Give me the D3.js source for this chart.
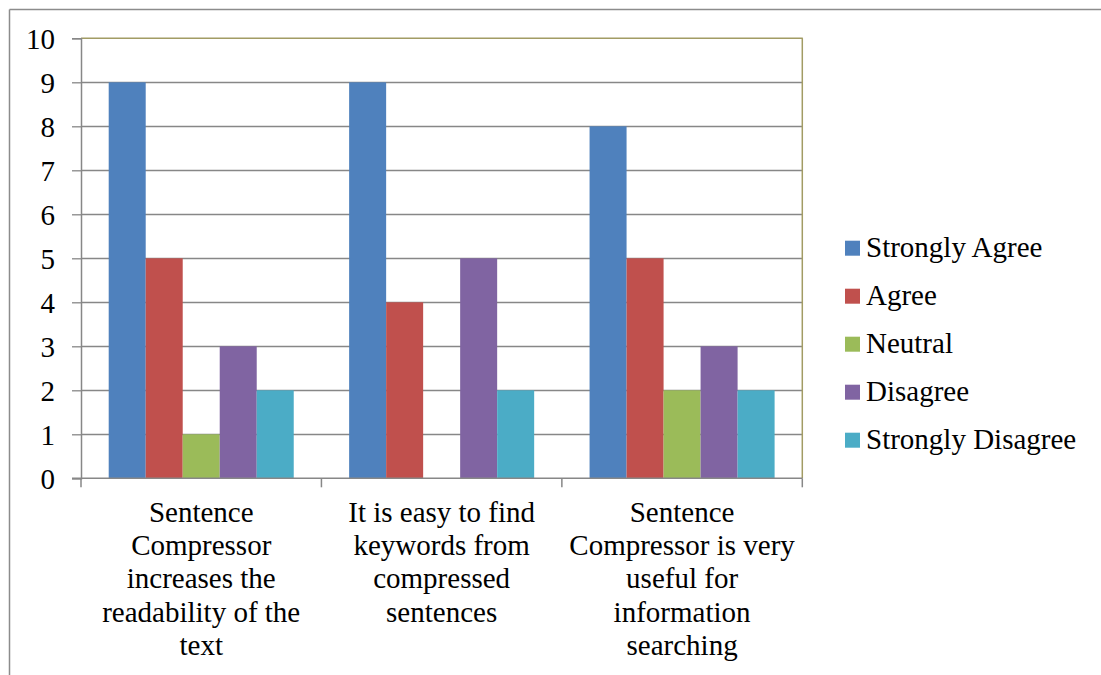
<!DOCTYPE html>
<html>
<head>
<meta charset="utf-8">
<script src="https://cdn.jsdelivr.net/npm/d3@7"></script>
<style>
  html, body { margin: 0; padding: 0; background: #fff; }
  svg { display: block; }
</style>
</head>
<body>
<script>
// ---- data ----
const categories = [
  ["Sentence", "Compressor", "increases the", "readability of the", "text"],
  ["It is easy to find", "keywords from", "compressed", "sentences"],
  ["Sentence", "Compressor is very", "useful for", "information", "searching"]
];
const seriesNames = ["Strongly Agree", "Agree", "Neutral", "Disagree", "Strongly Disagree"];
const seriesColors = ["#4F81BD", "#C0504D", "#9BBB59", "#8064A2", "#4BACC6"];
const stronglyAgree = [9, 9, 8];
const agree = [5, 4, 5];
const neutral = [1, 0, 2];
const disagree = [3, 5, 3];
const stronglyDisagree = [2, 2, 2];
const yTicks = [0, 1, 2, 3, 4, 5, 6, 7, 8, 9, 10];

const seriesValues = [stronglyAgree, agree, neutral, disagree, stronglyDisagree];
const FONT = "'Liberation Serif', 'Times New Roman', Times, Tinos, 'Nimbus Roman', 'Noto Serif', 'DejaVu Serif', FreeSerif, Georgia, serif";

const W = 1101, H = 675;
const svg = d3.select("body").append("svg").attr("width", W).attr("height", H);

// outer frame (top & left visible)
svg.append("line").attr("x1", 9.5).attr("x2", W).attr("y1", 9.5).attr("y2", 9.5)
  .attr("stroke", "#8c8c8c").attr("stroke-width", 1.5);
svg.append("line").attr("x1", 9.5).attr("x2", 9.5).attr("y1", 9.5).attr("y2", H)
  .attr("stroke", "#8c8c8c").attr("stroke-width", 1.5);

const plot = { left: 81, right: 802.3, top: 38.3, bottom: 478.3 };

const y = d3.scaleLinear().domain([0, 10]).range([plot.bottom, plot.top]);
const catIdx = categories.map((d, i) => i);
const x0 = d3.scaleBand().domain(catIdx).range([plot.left, plot.right]).padding(0);
const bw = x0.bandwidth();
const pad = bw * 0.1152;
const x1 = d3.scaleBand().domain(seriesNames).range([pad, bw - pad]).padding(0);

// gridlines
svg.append("g").selectAll("line").data(yTicks.filter(t => t > 0 && t < 10)).join("line")
  .attr("x1", plot.left).attr("x2", plot.right)
  .attr("y1", d => Math.round(y(d)) + 0.5).attr("y2", d => Math.round(y(d)) + 0.5)
  .attr("stroke", "#878787").attr("stroke-width", 1.3);

// bars
const groups = svg.append("g").selectAll("g").data(catIdx).join("g")
  .attr("transform", d => `translate(${x0(d)},0)`);
groups.selectAll("rect")
  .data(ci => seriesNames.map((s, si) => ({ s, si, v: seriesValues[si][ci] })))
  .join("rect")
  .attr("x", d => x1(d.s))
  .attr("width", x1.bandwidth())
  .attr("y", d => y(d.v))
  .attr("height", d => y(0) - y(d.v))
  .attr("fill", d => seriesColors[d.si]);

// plot border top & right (olive)
svg.append("line").attr("x1", plot.left).attr("x2", plot.right + 0.5)
  .attr("y1", plot.top).attr("y2", plot.top).attr("stroke", "#a29c64").attr("stroke-width", 1.5);
svg.append("line").attr("x1", plot.right).attr("x2", plot.right)
  .attr("y1", plot.top).attr("y2", plot.bottom).attr("stroke", "#a29c64").attr("stroke-width", 1.5);

// y axis
const yAxis = d3.axisLeft(y).tickValues(yTicks).tickSize(9).tickPadding(17).tickFormat(d3.format("d"));
const gy = svg.append("g").attr("transform", `translate(${plot.left},0)`).call(yAxis)
  .attr("font-family", null).attr("font-size", null);
gy.select(".domain").attr("stroke", "#878787").attr("stroke-width", 1.5);
gy.selectAll(".tick line").attr("stroke", "#878787").attr("stroke-width", 1.3);
gy.selectAll(".tick text").style("font-family", FONT).style("font-size", "29px")
  .attr("fill", "#000").attr("dy", "0.34em");

// x axis line + ticks at category boundaries
svg.append("line").attr("x1", plot.left - 9).attr("x2", plot.right)
  .attr("y1", plot.bottom).attr("y2", plot.bottom).attr("stroke", "#878787").attr("stroke-width", 1.5);
const boundaries = [plot.left].concat(catIdx.map(i => x0(i) + bw));
svg.append("g").selectAll("line").data(boundaries).join("line")
  .attr("x1", d => d).attr("x2", d => d)
  .attr("y1", plot.bottom).attr("y2", plot.bottom + 9)
  .attr("stroke", "#878787").attr("stroke-width", 1.5);

// category labels
const labels = svg.append("g").selectAll("text").data(catIdx).join("text")
  .attr("text-anchor", "middle").style("font-family", FONT).style("font-size", "29px")
  .attr("fill", "#000")
  .attr("x", d => x0(d) + bw / 2).attr("y", 521.7);
labels.selectAll("tspan").data(d => categories[d].map(line => ({ line, x: x0(d) + bw / 2 })))
  .join("tspan")
  .attr("x", d => d.x)
  .attr("dy", (d, i) => i === 0 ? 0 : 33.3)
  .text(d => d.line);

// legend
const leg = svg.append("g").selectAll("g").data(seriesNames).join("g")
  .attr("transform", (d, i) => `translate(845, ${248.2 + i * 48})`);
leg.append("rect").attr("x", 0).attr("y", -7.5).attr("width", 15).attr("height", 15)
  .attr("fill", (d, i) => seriesColors[i]);
leg.append("text").attr("x", 21).attr("y", 9).style("font-family", FONT).style("font-size", "29px")
  .attr("fill", "#000").text(d => d);
</script>
</body>
</html>
